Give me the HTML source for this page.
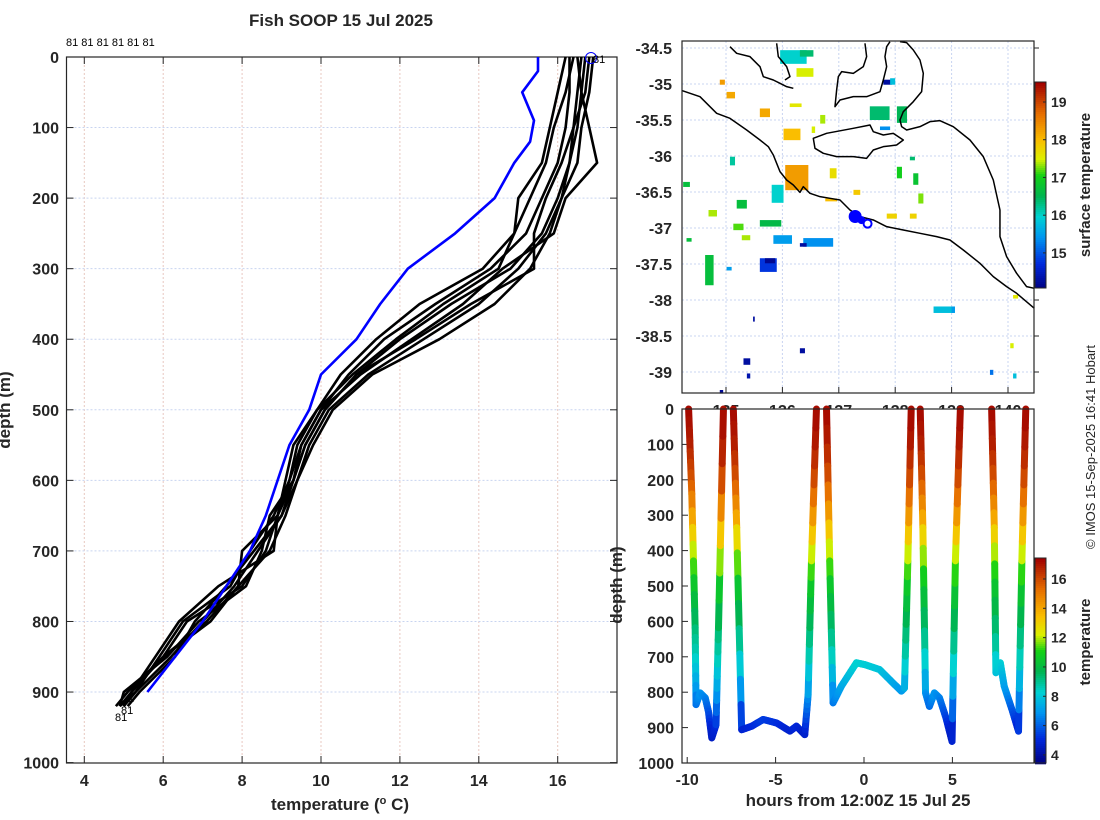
<!DOCTYPE html>
<html><head><meta charset="utf-8">
<style>
html,body{margin:0;padding:0;background:#fff;}
svg{display:block;font-family:"Liberation Sans","DejaVu Sans",sans-serif;}
.tk{font-size:16px;font-weight:bold;fill:#262626;}
.lb{font-size:17px;font-weight:bold;fill:#262626;}
</style></head><body>
<svg id="fig" width="1100" height="820" viewBox="0 0 1100 820" xmlns="http://www.w3.org/2000/svg">
<rect width="1100" height="820" fill="#fff"/>
<g id="left"></g><g id="map"></g><g id="bot"></g>
</svg>
<script>
// ---------- LEFT: profiles ----------
const profDepths=[0,50,100,150,200,250,300,350,400,450,500,550,600,650,700,750,800,850,900,920];
const prof1=[16.3,16.3,16.2,16.0,15.6,15.2,14.3,12.9,11.6,10.7,10.0,9.5,9.2,8.9,8.6,8.0,6.6,6.0,5.2,5.0];
const prof2=[16.6,16.5,16.4,16.3,16.0,15.6,14.8,13.3,12.0,10.9,10.1,9.6,9.3,9.0,8.4,7.8,7.0,6.2,5.3,4.9];
const prof3=[16.9,16.8,16.6,16.5,16.1,15.7,15.0,14.0,12.6,11.2,10.2,9.7,9.4,9.1,8.7,7.9,7.2,6.0,5.1,4.8];
const prof4=[16.4,16.2,15.9,15.7,15.3,14.9,14.5,13.1,11.9,10.8,9.9,9.4,9.2,8.8,8.2,7.7,6.5,5.9,5.3,5.0];
const prof5=[16.7,16.6,16.5,16.3,16.1,15.8,15.3,14.4,13.0,11.3,10.3,9.8,9.4,9.0,8.3,7.6,6.8,6.3,5.4,5.1];
const prof6=[16.5,16.6,16.8,17.0,16.2,15.9,14.6,13.6,12.3,11.0,10.0,9.5,9.3,8.7,8.5,8.1,6.9,6.1,5.0,4.9];
const prof7=[16.2,16.0,15.8,15.6,15.0,14.9,14.1,12.5,11.4,10.5,9.9,9.3,9.1,8.9,8.8,7.4,6.4,5.8,5.2,5.0];
const prof8=[16.8,16.7,16.4,16.1,15.7,15.4,15.4,13.8,12.4,10.9,10.1,9.6,9.3,8.9,8.0,7.9,7.1,6.0,5.2,4.9];
const blueDepths=[0,20,50,90,120,150,200,250,300,350,400,450,500,550,600,650,700,750,800,850,900];
const blueTemps=[15.5,15.5,15.1,15.4,15.3,14.9,14.4,13.4,12.2,11.5,10.9,10.0,9.7,9.2,8.9,8.6,8.2,7.6,7.0,6.3,5.6];
const leftXTicks=[4,6,8,10,12,14,16];
const leftYTicks=[0,100,200,300,400,500,600,700,800,900,1000];

// ---------- MAP ----------
const sstLon=[136.05,136.02,135.81,135.60,134.63,135.60,135.84,136.37,137.55,138.03,137.73,135.96,136.31,134.89,135.01,135.60,136.25,137.85,138.26,137.26,136.84,138.03,138.32,138.41,134.69,135.19,135.13,135.28,138.68,139.00,136.31,135.31,135.37,139.68,140.09,140.04,140.09,137.79,137.91,134.30,135.01,134.89,135.48,138.26,136.13,136.67,136.52,136.76,135.07,135.69,136.31,134.24];
const sstLat=[-36.125,-35.62,-36.40,-36.89,-37.375,-37.42,-37.10,-37.14,-35.31,-35.31,-35.59,-34.53,-34.53,-34.94,-35.11,-35.34,-34.78,-36.80,-36.80,-36.47,-36.17,-36.15,-36.24,-36.52,-36.75,-36.61,-36.94,-37.10,-38.09,-38.09,-38.67,-38.81,-39.02,-38.97,-39.02,-38.60,-37.93,-34.94,-34.92,-37.14,-37.54,-39.25,-38.23,-36.01,-35.27,-35.43,-35.59,-36.59,-36.01,-37.42,-37.21,-36.36];
const sstLonSpan=[.41,.30,.21,.38,.15,.30,.33,.53,.35,.18,.18,.47,.24,.09,.15,.18,.30,.18,.12,.12,.12,.09,.09,.09,.15,.18,.18,.15,.35,.06,.09,.12,.06,.06,.06,.06,.09,.15,.09,.09,.09,.06,.03,.09,.21,.09,.06,.21,.09,.18,.12,.12];
const sstLatSpan=[.35,.16,.25,.09,.42,.19,.12,.12,.19,.23,.05,.19,.09,.07,.09,.12,.12,.07,.07,.07,.14,.16,.16,.14,.09,.12,.09,.07,.09,.09,.07,.09,.07,.07,.07,.07,.05,.07,.09,.05,.05,.05,.07,.05,.05,.12,.09,.04,.12,.07,.05,.07];
const sstVal=[18.3,18.0,16.0,16.6,16.7,14.8,15.5,15.4,16.4,16.5,15.4,16.0,16.4,18.3,18.2,18.2,17.5,17.8,17.8,17.9,17.7,17.0,16.8,17.3,17.4,16.7,17.2,17.4,15.8,15.5,14.3,14.3,14.4,15.2,15.8,17.5,17.6,14.3,15.8,16.7,15.5,14.2,14.3,16.4,17.6,17.4,17.5,18.0,16.2,14.2,14.3,16.7];
const shipLon=[137.29,137.51];
const shipLat=[-36.84,-36.94];
const mapXTicks=[135,136,137,138,139,140];
const mapYTicks=[-34.5,-35,-35.5,-36,-36.5,-37,-37.5,-38,-38.5,-39];
const sstCbTicks=[15,16,17,18,19];

// ---------- BOTTOM: depth-time ----------
const trHours=[-9.92,-9.74,-9.55,-9.50,-9.27,-8.98,-8.80,-8.61,-8.37,-8.23,-7.95, -7.39,-7.2,-6.92,-6.35,-5.70,-4.94,-4.19,-3.82,-3.35,-3.16,-2.97,-2.69, -2.12,-1.94,-1.75,-1.28,-0.43,0.04,0.88,1.54,2.11,2.29,2.48,2.67, 3.18,3.33,3.48,3.70,3.98,4.27,4.64,4.98,5.17,5.45, 7.22,7.37,7.46,7.71,7.93,8.40,8.74,8.93,9.15];
const trDepth=[0,240,618,835,802,816,854,929,892,618,0, 0,335,906,896,877,887,910,896,920,807,429,0, 0,429,830,783,717,722,736,769,797,788,429,0, 0,335,802,840,802,816,873,939,429,0, 0,335,745,717,783,854,910,429,0];
const trCast=[1,1,1,1,1,1,1,1,1,1,1, 2,2,2,2,2,2,2,2,2,2,2,2, 3,3,3,3,3,3,3,3,3,3,3,3, 4,4,4,4,4,4,4,4,4,4, 5,5,5,5,5,5,5,5,5];
const meanDepth=[0,100,200,300,400,500,600,700,800,900,1000];
const meanTemp=[17.3,16.9,15.9,14.3,12.2,10.6,9.6,8.6,7.0,5.0,3.8];
const botXTicks=[-10,-5,0,5];
const botYTicks=[0,100,200,300,400,500,600,700,800,900,1000];
const tCbTicks=[4,6,8,10,12,14,16];

const NS="http://www.w3.org/2000/svg";
function mk(parent,tag,attrs,text){const e=document.createElementNS(NS,tag);for(const k in attrs)e.setAttribute(k,attrs[k]);if(text!==undefined)e.textContent=text;parent.appendChild(e);return e;}

const cstops=[[0,[0,0,128]],[0.12,[0,40,220]],[0.25,[0,150,240]],[0.35,[0,210,210]],[0.45,[0,180,80]],[0.55,[20,210,20]],[0.63,[220,240,0]],[0.72,[250,190,0]],[0.85,[230,110,0]],[1,[160,0,0]]];
function cmap(f){f=Math.max(0,Math.min(1,f));for(let i=1;i<cstops.length;i++){if(f<=cstops[i][0]){const a=cstops[i-1],b=cstops[i];const t=(f-a[0])/(b[0]-a[0]);const c=a[1].map((v,j)=>Math.round(v+(b[1][j]-v)*t));return `rgb(${c[0]},${c[1]},${c[2]})`;}}return 'rgb(160,0,0)';}
function interp(xs,ys,x){if(x<=xs[0])return ys[0];for(let i=1;i<xs.length;i++){if(x<=xs[i]){const t=(x-xs[i-1])/(xs[i]-xs[i-1]);return ys[i-1]+(ys[i]-ys[i-1])*t;}}return ys[ys.length-1];}

// ===== LEFT PANEL =====
const L=document.getElementById('left');
const lx0=66.5,lx1=617,ly0=57,ly1=763;
const lxs=t=>84.3+(t-4)*39.45;
const lys=d=>ly0+d*0.7056;
let e;
e=mk(L,'text',{x:341,y:26,'text-anchor':'middle',class:'lb'},'Fish SOOP 15 Jul 2025');

leftXTicks.forEach(t=>{const x=lxs(t);
 mk(L,'line',{x1:x,y1:ly0,x2:x,y2:ly1,stroke:'#e8c8c0','stroke-width':1,'stroke-dasharray':'2,2'});
 mk(L,'line',{x1:x,y1:ly1,x2:x,y2:ly1-7,stroke:'#262626'});
 mk(L,'line',{x1:x,y1:ly0,x2:x,y2:ly0+7,stroke:'#262626'});
 const t2=mk(L,'text',{x:x,y:ly1+23,'text-anchor':'middle',class:'tk'},String(t));
 });
leftYTicks.forEach(t=>{const y=lys(t);
 if(t>0&&t<1000)mk(L,'line',{x1:lx0,y1:y,x2:lx1,y2:y,stroke:'#c8d4f0','stroke-width':1,'stroke-dasharray':'2,2'});
 mk(L,'line',{x1:lx0,y1:y,x2:lx0+7,y2:y,stroke:'#262626'});
 mk(L,'line',{x1:lx1,y1:y,x2:lx1-7,y2:y,stroke:'#262626'});
 const t2=mk(L,'text',{x:59,y:y+6,'text-anchor':'end',class:'tk'},String(t));
 });
e=mk(L,'rect',{x:lx0,y:ly0,width:lx1-lx0,height:ly1-ly0,fill:'none',stroke:'#262626','stroke-width':1.2});

[prof1,prof2,prof3,prof4,prof5,prof6,prof7,prof8].forEach((p,i)=>{
 const pts=p.map((t,j)=>lxs(t).toFixed(1)+','+lys(profDepths[j]).toFixed(1)).join(' ');
 const pl=mk(L,'polyline',{points:pts,fill:'none',stroke:'#000','stroke-width':2.6,'stroke-linejoin':'round'});
 });
{const pts=blueTemps.map((t,j)=>lxs(t).toFixed(1)+','+lys(blueDepths[j]).toFixed(1)).join(' ');
 const pl=mk(L,'polyline',{points:pts,fill:'none',stroke:'#0000ff','stroke-width':2.6,'stroke-linejoin':'round'});
 }
e=mk(L,'text',{x:66,y:46,'font-size':11,fill:'#000'},'81 81 81 81 81 81');

e=mk(L,'circle',{cx:591,cy:58,r:5.5,fill:'none',stroke:'#0000ff','stroke-width':1});

mk(L,'text',{x:593,y:63,'font-size':11,fill:'#000'},'81');
mk(L,'text',{x:128,y:702,'font-size':11,fill:'#000'},'1');
mk(L,'text',{x:121,y:714,'font-size':11,fill:'#000'},'81');
mk(L,'text',{x:115,y:721,'font-size':11,fill:'#000'},'81');
e=mk(L,'text',{x:340,y:810,'text-anchor':'middle',class:'lb'});
e.innerHTML='temperature (<tspan baseline-shift="super" font-size="11">o</tspan> C)';

e=mk(L,'text',{x:0,y:0,'text-anchor':'middle',class:'lb',transform:'translate(10,410) rotate(-90)'},'depth (m)');


// ===== MAP =====
const M=document.getElementById('map');
const mx0=682,mx1=1034,my0=41,my1=393;
const mxs=lon=>726+(lon-135)*56.4;
const mys=lat=>48+(-34.5-lat)*72;
mapXTicks.forEach(t=>{const x=mxs(t);
 mk(M,'line',{x1:x,y1:my0,x2:x,y2:my1,stroke:'#c8d4f0','stroke-dasharray':'2,2'});
 mk(M,'line',{x1:x,y1:my1,x2:x,y2:my1-6,stroke:'#262626'});
 mk(M,'text',{x:x,y:416,'text-anchor':'middle',class:'tk'},String(t));});
mapYTicks.forEach(t=>{const y=mys(t);
 mk(M,'line',{x1:mx0,y1:y,x2:mx1,y2:y,stroke:'#c8d4f0','stroke-dasharray':'2,2'});
 mk(M,'line',{x1:mx1,y1:y,x2:mx1+5,y2:y,stroke:'#262626'});
 const t2=mk(M,'text',{x:672,y:y+6,'text-anchor':'end',class:'tk'},String(t));
 });
const sMin=14.07,sMax=19.53;
sstLon.forEach((lon,i)=>{
 const r=mk(M,'rect',{x:mxs(lon),y:mys(sstLat[i]),width:sstLonSpan[i]*56.4,height:sstLatSpan[i]*72,fill:cmap((sstVal[i]-sMin)/(sMax-sMin))});
 });
const cg=mk(M,'g',{transform:'translate(620,30) scale(0.3333)',fill:'none',stroke:'#000','stroke-width':4.5,'stroke-linejoin':'round'});

mk(cg,'polyline',{points:'187,182 240,200 290,250 330,265 380,300 420,330 445,350 460,375 470,400 480,425 500,450 520,465 540,487 550,470 570,490 600,500 630,505 660,510 690,540 720,560 760,570 800,590 850,600 900,610 950,620 990,630 1030,660 1080,700 1120,740 1160,770 1190,790 1243,835'});
mk(cg,'polyline',{points:'1243,775 1220,770 1190,730 1160,680 1140,620 1140,540 1120,450 1090,380 1050,330 1000,290 960,272 930,275 900,290 860,300 845,290 840,270 850,245 880,215 905,185 910,130 900,90 880,60 860,38 840,35'});
mk(cg,'polyline',{points:'810,35 800,50 795,80 800,110 790,150 780,185 740,200 700,200 660,210 645,230 650,180 655,140 665,125 700,130 730,110 740,80 735,40'});
mk(cg,'polygon',{points:'580,325 620,310 700,295 750,285 760,305 790,315 820,310 850,330 830,345 790,350 760,360 740,385 700,380 650,380 610,370 585,355'});
mk(cg,'polyline',{points:'330,50 350,70 390,80 420,110 430,140 460,150 480,160 500,170 520,175'});
mk(cg,'polyline',{points:'470,40 475,80 500,110 510,140 495,150'});
e=mk(M,'rect',{x:mx0,y:my0,width:mx1-mx0,height:my1-my0,fill:'none',stroke:'#262626','stroke-width':1.2});

e=mk(M,'circle',{cx:mxs(shipLon[0]),cy:mys(shipLat[0]),r:6.5,fill:'#0000ff'});

mk(M,'circle',{cx:(mxs(shipLon[0])+mxs(shipLon[1]))/2,cy:(mys(shipLat[0])+mys(shipLat[1]))/2,r:4,fill:'#0000ff'});
e=mk(M,'circle',{cx:mxs(shipLon[1]),cy:mys(shipLat[1]),r:4,fill:'none',stroke:'#0000ff','stroke-width':2});

const cb1x=1035,cb1y0=82,cb1y1=288;
for(let i=0;i<103;i++){const y=cb1y0+i*2;const f=1-(i*2)/(cb1y1-cb1y0);mk(M,'rect',{x:cb1x,y:y,width:11,height:2.3,fill:cmap(f)});}
e=mk(M,'rect',{x:cb1x,y:cb1y0,width:11,height:cb1y1-cb1y0,fill:'none',stroke:'#262626'});

sstCbTicks.forEach(t=>{const y=cb1y1-(t-sMin)/(sMax-sMin)*(cb1y1-cb1y0);
 mk(M,'line',{x1:cb1x+11,y1:y,x2:cb1x+8,y2:y,stroke:'#262626'});
 mk(M,'text',{x:1051,y:y+5,'font-size':14,'font-weight':'bold',fill:'#262626'},String(t));});
e=mk(M,'text',{x:0,y:0,'text-anchor':'middle','font-size':15,'font-weight':'bold',fill:'#262626',transform:'translate(1090,185) rotate(-90)'},'surface temperature');

e=mk(M,'text',{x:0,y:0,'text-anchor':'middle','font-size':13,fill:'#262626',transform:'translate(1095,447) rotate(-90)'},'© IMOS 15-Sep-2025 16:41 Hobart');


// ===== BOTTOM =====
const B=document.getElementById('bot');
const bx0=682,bx1=1034,by0=409,by1=763;
const bxs=h=>864+h*17.68;
const bys=d=>by0+d*0.354;
e=mk(B,'rect',{x:bx0,y:by0,width:bx1-bx0,height:by1-by0,fill:'#fff'});
botXTicks.forEach(t=>{const x=bxs(t);
 mk(B,'line',{x1:x,y1:by1,x2:x,y2:by1-6,stroke:'#262626'});
 const t2=mk(B,'text',{x:x,y:by1+22,'text-anchor':'middle',class:'tk'},String(t));
 });
botYTicks.forEach(t=>{const y=bys(t);
 mk(B,'line',{x1:bx0,y1:y,x2:bx0+6,y2:y,stroke:'#262626'});
 const t2=mk(B,'text',{x:674,y:y+6,'text-anchor':'end',class:'tk'},String(t));
 });
const tMin=3.45,tMax=17.43;
for(let i=1;i<trHours.length;i++){
 if(trCast[i]!==trCast[i-1])continue;
 const n=8;
 for(let k=0;k<n;k++){
  const a=k/n,b=(k+1)/n;
  const h0=trHours[i-1]+(trHours[i]-trHours[i-1])*a,h1=trHours[i-1]+(trHours[i]-trHours[i-1])*b;
  const d0=trDepth[i-1]+(trDepth[i]-trDepth[i-1])*a,d1=trDepth[i-1]+(trDepth[i]-trDepth[i-1])*b;
  const t=interp(meanDepth,meanTemp,(d0+d1)/2);
  const s=mk(B,'line',{x1:bxs(h0),y1:bys(d0),x2:bxs(h1),y2:bys(d1),stroke:cmap((t-tMin)/(tMax-tMin)),'stroke-width':7,'stroke-linecap':'round'});
  
  
 }
}
e=mk(B,'rect',{x:bx0,y:by0,width:bx1-bx0,height:by1-by0,fill:'none',stroke:'#262626','stroke-width':1.2});

const cb2x=1035,cb2y0=558,cb2y1=763;
for(let i=0;i<103;i++){const y=cb2y0+i*2;const f=1-(i*2)/(cb2y1-cb2y0);mk(B,'rect',{x:cb2x,y:y,width:11,height:2.3,fill:cmap(f)});}
e=mk(B,'rect',{x:cb2x,y:cb2y0,width:11,height:cb2y1-cb2y0,fill:'none',stroke:'#262626'});

tCbTicks.forEach(t=>{const y=cb2y1-(t-tMin)/(tMax-tMin)*(cb2y1-cb2y0);
 mk(B,'line',{x1:cb2x+11,y1:y,x2:cb2x+8,y2:y,stroke:'#262626'});
 mk(B,'text',{x:1051,y:y+5,'font-size':14,'font-weight':'bold',fill:'#262626'},String(t));});
e=mk(B,'text',{x:0,y:0,'text-anchor':'middle','font-size':15,'font-weight':'bold',fill:'#262626',transform:'translate(1090,642) rotate(-90)'},'temperature');

e=mk(B,'text',{x:858,y:806,'text-anchor':'middle',class:'lb'},'hours from 12:00Z 15 Jul 25');

e=mk(B,'text',{x:0,y:0,'text-anchor':'middle',class:'lb',transform:'translate(622,585) rotate(-90)'},'depth (m)');

</script>
</body></html>
